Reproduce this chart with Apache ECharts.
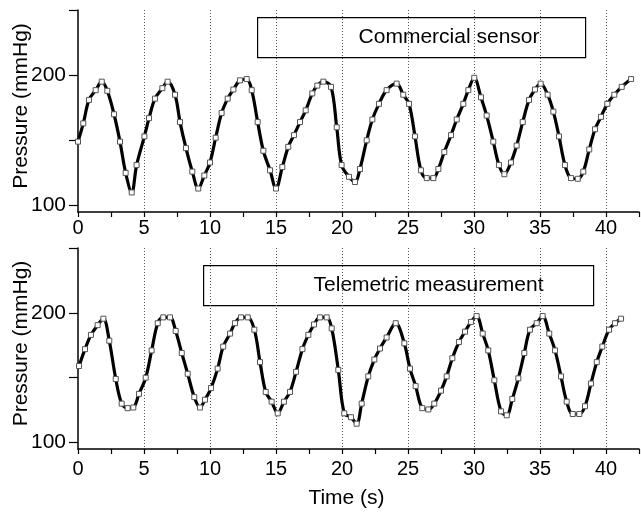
<!DOCTYPE html>
<html>
<head>
<meta charset="utf-8">
<script src="https://cdn.jsdelivr.net/npm/echarts@6/dist/echarts.min.js"></script>
<style>
  html, body { margin: 0; padding: 0; background: #fff; }
  #chart { width: 641px; height: 515px; }
</style>
</head>
<body>
<div id="chart"></div>
<script>
// Blood pressure traces, commercial sensor (top) and telemetric measurement (bottom)
const timeCommercial = [
  0, 0.4, 0.83, 1.34, 1.8, 2.22, 2.73, 3.18, 3.61, 4.07, 4.44, 5.03, 5.38, 5.83, 6.39, 6.79,
  7.35, 7.73, 8.18, 8.66, 9.11, 9.57, 10.0, 10.43, 10.88, 11.34, 11.77, 12.27, 12.78, 13.16,
  13.61, 14.04, 14.55, 15.0, 15.48, 15.93, 16.36, 16.82, 17.25, 17.75, 18.13, 18.59, 19.17,
  19.6, 19.97, 20.53, 20.98, 21.36, 21.87, 22.3, 22.8, 23.38, 24.14, 24.64, 25.08, 25.53,
  25.98, 26.42, 26.92, 27.3, 27.75, 28.26, 28.69, 29.19, 29.57, 30.02, 30.53, 30.96, 31.46,
  31.89, 32.3, 32.8, 33.23, 33.69, 34.17, 34.62, 35.05, 35.58, 36.01, 36.44, 36.89, 37.35,
  37.86, 38.28, 38.73, 39.17, 39.62, 40.1, 40.63, 41.19, 41.9
];
const pressureCommercial = [
  149, 163, 181, 188.5, 195, 188, 170, 149, 125, 110, 131, 153, 167, 182, 190, 195,
  185, 164, 144, 126, 113, 123, 133, 152, 171, 182, 189, 196, 197, 188.5,
  164, 142, 127, 113, 129.5, 145, 154, 164, 173, 186, 192, 195, 191,
  160, 131, 122, 118, 128, 150, 166, 178, 188.5, 193.5, 185, 178, 153,
  127, 121, 121, 128, 141, 154, 166, 178, 188.5, 198, 183, 169, 149,
  131, 124, 133, 146, 164, 181, 189, 193.5, 185, 172, 153, 131, 121,
  120.5, 126, 143, 158.5, 168, 178, 185, 191, 197
];
const timeTelemetric = [
  0.08, 0.53, 0.98, 1.49, 1.92, 2.37, 2.86, 3.31, 3.76, 4.19, 4.62, 5.13, 5.58, 6.04, 6.46,
  6.97, 7.4, 7.86, 8.31, 8.81, 9.24, 9.62, 10.08, 10.58, 11.0, 11.52, 11.89, 12.35, 12.86,
  13.36, 13.79, 14.22, 14.67, 15.13, 15.6, 16.06, 16.52, 17.0, 17.45, 17.88, 18.33, 18.84,
  19.22, 19.72, 20.17, 20.68, 21.11, 21.49, 21.99, 22.45, 22.88, 23.38, 24.07, 24.72, 25.15,
  25.58, 26.08, 26.54, 26.99, 27.5, 27.93, 28.36, 28.86, 29.32, 29.77, 30.2, 30.66, 31.08,
  31.54, 32.05, 32.48, 32.9, 33.36, 33.81, 34.24, 34.75, 35.2, 35.7, 36.14, 36.59, 37.02,
  37.48, 37.98, 38.41, 38.86, 39.3, 39.72, 40.23, 40.68, 41.14
];
const pressureTelemetric = [
  159, 172, 183, 190.5, 195.5, 178.5, 149, 130, 126.5, 127, 137.5, 150, 171, 192, 196.5,
  196.5, 186, 169, 153, 135, 127, 133, 142, 157, 174, 184, 192, 196.5, 196.5,
  187, 162, 139, 131.5, 122.5, 131.5, 139, 154.5, 172, 183, 191, 196.5, 196.5,
  188, 156, 122.5, 119.5, 114.5, 130, 151, 164, 172.5, 181, 192, 176.5, 157,
  143.5, 126.5, 125.5, 130, 140, 151, 165, 177.5, 185.5, 193, 197.5, 184, 171,
  148, 124, 121, 133.5, 149.5, 169, 187, 192, 197.5, 184, 171, 151, 131.5,
  122, 122, 128, 145.5, 162, 174, 187, 192, 195.5
];

// Axis ticks and labels
const timeTicks = [0, 2.5, 5, 7.5, 10, 12.5, 15, 17.5, 20, 22.5, 25, 27.5, 30, 32.5, 35, 37.5, 40, 42.5];
const timeLabels = [0, 5, 10, 15, 20, 25, 30, 35, 40];
const pressureTicks = [100, 150, 200, 250];
const pressureLabels = [100, 200];
const panelTitles = ['Commercial sensor', 'Telemetric measurement'];

const FONT = 'Liberation Sans, Arial, sans-serif';
const T_MAX = 42.5;

function pairs(xs, ys) {
  return xs.map((x, i) => [x, ys[i]]);
}

// Visible time axis: ticks every 2.5 s, labels every 5 s
function timeAxis(gridIndex, name, labelMargin) {
  return {
    type: 'value', gridIndex, position: 'bottom', min: 0, max: T_MAX, interval: 5,
    axisLine: { show: true, onZero: false, lineStyle: { color: '#000', width: 1.5 } },
    axisTick: { show: true, customValues: timeTicks, length: 5, lineStyle: { color: '#000', width: 1.2 } },
    axisLabel: { customValues: timeLabels, color: '#000', fontSize: 20, fontFamily: FONT, margin: labelMargin },
    splitLine: { show: false },
    name, nameLocation: 'middle', nameGap: 39,
    nameTextStyle: { color: '#000', fontSize: 21, fontFamily: FONT, padding: [0, 24, 0, 0] },
    z: 5
  };
}

// Hidden companion axis that only draws the dotted vertical grid every 5 s
function gridLineAxis(gridIndex) {
  return {
    type: 'value', gridIndex, position: 'bottom', min: 0, max: T_MAX, interval: 5,
    axisLine: { show: false }, axisTick: { show: false }, axisLabel: { show: false },
    splitLine: { show: true, showMinLine: false, showMaxLine: false,
      lineStyle: { color: '#555', type: [1, 2], width: 1 } }
  };
}

function pressureAxis(gridIndex) {
  return {
    type: 'value', gridIndex, min: 95, max: 250,
    axisLine: { show: true, onZero: false, lineStyle: { color: '#000', width: 1.5 } },
    axisTick: { show: true, customValues: pressureTicks, length: 9, lineStyle: { color: '#000', width: 1.2 } },
    axisLabel: { customValues: pressureLabels, color: '#000', fontSize: 21, fontFamily: FONT, margin: 12 },
    splitLine: { show: false },
    name: 'Pressure (mmHg)', nameLocation: 'middle', nameRotate: 90, nameGap: 46,
    nameMoveOverlap: false,
    nameTextStyle: { color: '#000', fontSize: 21, fontFamily: FONT, padding: [0, 0, 0, 10] }
  };
}

function trace(xIdx, yIdx, data) {
  return {
    type: 'line', xAxisIndex: xIdx, yAxisIndex: yIdx, data,
    smooth: 0.35, showAllSymbol: true,
    symbol: 'rect', symbolSize: 5,
    lineStyle: { color: '#000', width: 3.2 },
    itemStyle: { color: '#fff', borderColor: '#555', borderWidth: 1 },
    emphasis: { disabled: true }, animation: false
  };
}

function titleBox(left, top, width, height, text, textX) {
  return {
    type: 'group', left, top,
    children: [
      { type: 'rect', shape: { x: 0, y: 0, width, height },
        style: { fill: '#fff', stroke: '#000', lineWidth: 1.2 } },
      { type: 'text', x: textX, y: height / 2,
        style: { text, fill: '#000', font: '21px ' + FONT, verticalAlign: 'middle', align: 'left' } }
    ]
  };
}

const chart = echarts.init(document.getElementById('chart'), null, { renderer: 'canvas' });
chart.setOption({
  backgroundColor: '#fff',
  animation: false,
  grid: [
    { left: 78, right: 2, top: 10, height: 202, outerBoundsMode: 'none' },
    { left: 78, right: 2, top: 248, height: 201, outerBoundsMode: 'none' }
  ],
  xAxis: [
    timeAxis(0, '', 6), gridLineAxis(0),
    timeAxis(1, 'Time (s)', 10), gridLineAxis(1)
  ],
  yAxis: [pressureAxis(0), pressureAxis(1)],
  series: [
    trace(0, 0, pairs(timeCommercial, pressureCommercial)),
    trace(2, 1, pairs(timeTelemetric, pressureTelemetric))
  ],
  graphic: [
    titleBox(257, 17, 328, 40, panelTitles[0], 101),
    titleBox(203, 265, 390, 40, panelTitles[1], 110)
  ]
});
</script>
</body>
</html>
